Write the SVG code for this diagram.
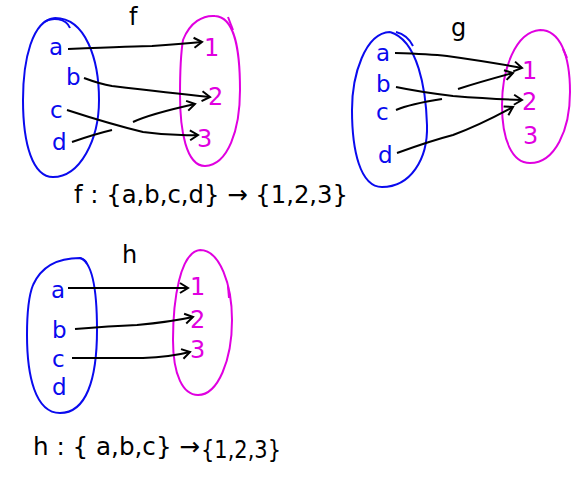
<svg xmlns="http://www.w3.org/2000/svg" width="585" height="485" viewBox="0 0 585 485">
<style>
text{font-family:"DejaVu Sans","Liberation Sans",sans-serif}
.dom{fill:none;stroke:#0a0aee;stroke-width:2}
.cod{fill:none;stroke:#e000e0;stroke-width:2}
.dl{fill:#0a0aee;font-size:23px}
.cl{fill:#e000e0;font-size:24px}
.ttl{fill:#000;font-size:24px}
.cap{fill:#000;font-size:25px}
.arr{fill:none;stroke:#000;stroke-width:2;marker-end:url(#ah)}
.seg{fill:none;stroke:#000;stroke-width:2}
</style>
<defs>
<marker id="ah" markerUnits="userSpaceOnUse" markerWidth="14" markerHeight="14" viewBox="-10 -7 12 14" refX="0" refY="0" orient="auto">
<path d="M-8,-5 L0,0 L-8,5" fill="none" stroke="#000" stroke-width="2"/>
</marker>
</defs>
<rect width="585" height="485" fill="#fff"/>

<!-- f -->
<g id="f-title"><text class="ttl" x="129" y="25">f</text></g>
<g id="f-domain">
<path class="dom" d="M55,18 C32,20 23,60 23,100 C23,145 33,177 53,177 C80,177 99,140 99,100 C99,60 86,18 55,18"/>
<path class="dom" d="M44,22 C52,17 66,18 70,28"/>
<text class="dl" x="49" y="55">a</text>
<text class="dl" x="66" y="85">b</text>
<text class="dl" x="50" y="118">c</text>
<text class="dl" x="52" y="150">d</text>
</g>
<g id="f-codomain">
<path class="cod" d="M183,40 C190,22 203,15 215,16 C235,17 240,50 240,90 C240,130 228,165 205,166 C186,166 180,130 180,95 C180,70 181,52 183,40"/>
<path class="cod" d="M228,17 L233,30"/>
<text class="cl" x="204" y="56">1</text>
<text class="cl" x="208" y="105">2</text>
<text class="cl" x="197" y="147">3</text>
</g>
<g id="f-caption"><text class="cap" x="74" y="203" textLength="274" lengthAdjust="spacingAndGlyphs">f : {a,b,c,d} → {1,2,3}</text></g>

<!-- g -->
<g id="g-title"><text class="ttl" x="451" y="36">g</text></g>
<g id="g-domain">
<path class="dom" d="M390,32 C365,33 352,75 352,110 C352,150 360,187 382,187 C410,187 428,160 427,125 C426,90 418,40 390,32"/>
<path class="dom" d="M396,32 C404,34 410,40 413,46"/>
<text class="dl" x="376" y="61">a</text>
<text class="dl" x="376" y="92">b</text>
<text class="dl" x="376" y="120">c</text>
<text class="dl" x="378" y="163">d</text>
</g>
<g id="g-codomain">
<path class="cod" d="M540,30 C515,32 502,70 502,105 C502,140 512,163 530,163 C555,163 570,130 570,92 C570,55 560,30 540,30"/>
<path class="cod" d="M563,49 L567,58"/>
<text class="cl" x="522" y="79">1</text>
<text class="cl" x="522" y="110">2</text>
<text class="cl" x="523" y="144">3</text>
</g>

<!-- h -->
<g id="h-title"><text class="ttl" x="122" y="263">h</text></g>
<g id="h-domain">
<path class="dom" d="M33,285 C42,265 60,258 80,258 C93,262 97,292 97,330 C97,380 86,413 60,413 C35,413 27,375 27,335 C27,310 29,295 33,285"/>
<path class="dom" d="M80,258 C84,259 86,261 87,264"/>
<text class="dl" x="51" y="298">a</text>
<text class="dl" x="52" y="338">b</text>
<text class="dl" x="52" y="367">c</text>
<text class="dl" x="52" y="395">d</text>
</g>
<g id="h-codomain">
<path class="cod" d="M200,250 C180,252 173,300 173,340 C173,375 183,395 198,395 C218,395 232,360 232,320 C232,285 220,250 200,250"/>
<path class="cod" d="M228,286 L229,298"/>
<text class="cl" x="190" y="295">1</text>
<text class="cl" x="190" y="328">2</text>
<text class="cl" x="190" y="358">3</text>
</g>
<g id="h-caption">
<text class="cap" x="33" y="455" textLength="167" lengthAdjust="spacingAndGlyphs">h : { a,b,c} →</text>
<text class="cap" x="201" y="458" textLength="80" lengthAdjust="spacingAndGlyphs">{1,2,3}</text>
</g>

<g id="connectors">
<!-- f -->
<path class="arr" d="M68,49 Q140,46 152,46 Q180,44 202,42"/>
<path class="arr" d="M84,78 Q100,84 112,86 Q170,93 210,97"/>
<path class="arr" d="M67,110 Q110,124 143,132 Q170,136 198,135"/>
<path class="seg" d="M72,142 Q95,134 112,130"/>
<path class="arr" d="M133,122 Q150,114 195,104"/>
<!-- g -->
<path class="arr" d="M395,53 Q430,54 447,56 Q490,62 522,68"/>
<path class="arr" d="M396,87 Q420,92 453,96 Q490,99 522,100"/>
<path class="seg" d="M396,110 Q410,104 442,99"/>
<path class="arr" d="M458,89 Q480,82 513,73"/>
<path class="arr" d="M397,153 Q430,141 453,135 Q480,125 513,107"/>
<!-- h -->
<path class="arr" d="M68,288 L188,288"/>
<path class="arr" d="M75,329 Q110,326 137,325 Q170,322 193,317"/>
<path class="arr" d="M72,358 Q110,358 143,358 Q170,357 190,352"/>
</g>
</svg>
